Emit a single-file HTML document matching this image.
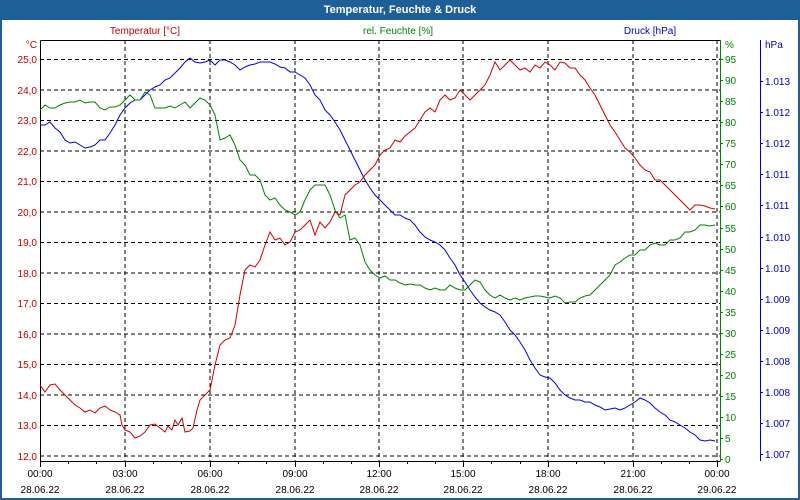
<!DOCTYPE html>
<html><head><meta charset="utf-8"><style>
html,body{margin:0;padding:0;background:#fff;}
svg{display:block;font-family:"Liberation Sans","DejaVu Sans",sans-serif;}
</style></head><body>
<svg width="800" height="500" viewBox="0 0 800 500" xmlns="http://www.w3.org/2000/svg">
<rect x="0" y="0" width="800" height="500" fill="#1e5f98"/>
<rect x="2" y="20" width="796" height="478" fill="#fff"/>
<text x="400" y="13" font-size="11" font-weight="bold" fill="#fff" text-anchor="middle">Temperatur, Feuchte &amp; Druck</text>
<text x="145" y="34" font-size="10" fill="#c00000" text-anchor="middle">Temperatur [°C]</text>
<text x="398" y="34" font-size="10" fill="#008000" text-anchor="middle">rel. Feuchte [%]</text>
<text x="650" y="34" font-size="10" fill="#0000c0" text-anchor="middle">Druck [hPa]</text>
<g stroke="#000" stroke-width="1" stroke-dasharray="4,3" fill="none">
<path d="M40,59.5H720M40,90H720M40,120.5H720M40,151H720M40,181.5H720M40,212H720M40,242.5H720M40,273H720M40,303.5H720M40,334H720M40,364.5H720M40,395H720M40,425.5H720M40,456H720"/>
<path d="M125,40V461M210,40V461M295,40V461M379,40V461M463,40V461M548,40V461M633,40V461M717,40V461"/>
</g>
<path d="M40.5,40.5H720.5M40.5,40.5V461.5H720.5" stroke="#000" fill="none"/>
<path d="M720.5,40V461" stroke="#008000" fill="none"/>
<path d="M760.5,40V461" stroke="#0000c0" fill="none"/>
<g stroke="#000"><path d="M40.5,461V467M68.5,461V464M96.5,461V464M125.5,461V467M153.5,461V464M181.5,461V464M210.5,461V467M238.5,461V464M266.5,461V464M295.5,461V467M323.5,461V464M351.5,461V464M379.5,461V467M407.5,461V464M435.5,461V464M463.5,461V467M491.5,461V464M520.5,461V464M548.5,461V467M576.5,461V464M604.5,461V464M633.5,461V467M661.5,461V464M689.5,461V464M717.5,461V467"/></g>
<g font-size="10" fill="#c00000" text-anchor="end">
<text x="37" y="48">°C</text>
<text x="37" y="63">25,0</text><text x="37" y="94">24,0</text><text x="37" y="124">23,0</text><text x="37" y="155">22,0</text><text x="37" y="185">21,0</text><text x="37" y="216">20,0</text><text x="37" y="246">19,0</text><text x="37" y="277">18,0</text><text x="37" y="307">17,0</text><text x="37" y="338">16,0</text><text x="37" y="368">15,0</text><text x="37" y="399">14,0</text><text x="37" y="429">13,0</text><text x="37" y="460">12,0</text>
</g>
<g font-size="10" fill="#008000">
<text x="725" y="48">%</text>
<text x="725" y="63">95</text><text x="725" y="84">90</text><text x="725" y="105">85</text><text x="725" y="126">80</text><text x="725" y="147">75</text><text x="725" y="168">70</text><text x="725" y="189">65</text><text x="725" y="210">60</text><text x="725" y="232">55</text><text x="725" y="253">50</text><text x="725" y="274">45</text><text x="725" y="295">40</text><text x="725" y="316">35</text><text x="725" y="337">30</text><text x="725" y="358">25</text><text x="725" y="379">20</text><text x="725" y="400">15</text><text x="725" y="421">10</text><text x="725" y="442">5</text><text x="725" y="463">0</text>
</g>
<g stroke="#008000"><path d="M720,59.5h3M720,80.5h3M720,101.5h3M720,122.5h3M720,143.5h3M720,164.5h3M720,185.5h3M720,206.5h3M720,228.5h3M720,249.5h3M720,270.5h3M720,291.5h3M720,312.5h3M720,333.5h3M720,354.5h3M720,375.5h3M720,396.5h3M720,417.5h3M720,438.5h3M720,459.5h3"/></g>
<g stroke="#0000c0"><path d="M760,81.5h3M760,112.5h3M760,143.5h3M760,174.5h3M760,205.5h3M760,237.5h3M760,268.5h3M760,299.5h3M760,330.5h3M760,361.5h3M760,392.5h3M760,423.5h3M760,454.5h3"/></g>
<g font-size="10" fill="#0000c0">
<text x="765" y="48">hPa</text>
<text x="765" y="85">1.013</text><text x="765" y="116">1.012</text><text x="765" y="147">1.012</text><text x="765" y="178">1.011</text><text x="765" y="209">1.011</text><text x="765" y="241">1.010</text><text x="765" y="272">1.010</text><text x="765" y="303">1.009</text><text x="765" y="334">1.009</text><text x="765" y="365">1.008</text><text x="765" y="396">1.008</text><text x="765" y="427">1.007</text><text x="765" y="458">1.007</text>
</g>
<g font-size="10" fill="#000" text-anchor="middle">
<text x="40" y="477">00:00</text><text x="125" y="477">03:00</text><text x="210" y="477">06:00</text><text x="295" y="477">09:00</text><text x="379" y="477">12:00</text><text x="463" y="477">15:00</text><text x="548" y="477">18:00</text><text x="633" y="477">21:00</text><text x="717" y="477">00:00</text>
<text x="40" y="493">28.06.22</text><text x="125" y="493">28.06.22</text><text x="210" y="493">28.06.22</text><text x="295" y="493">28.06.22</text><text x="379" y="493">28.06.22</text><text x="463" y="493">28.06.22</text><text x="548" y="493">28.06.22</text><text x="633" y="493">28.06.22</text><text x="717" y="493">29.06.22</text>
</g>
<polyline fill="none" stroke="#0000e0" stroke-width="1" points="40,125 45,125 50,122 55,128 60,132 65,140 70,143 75,142 80,145 85,148 90,147 95,145 100,140 105,140 110,133 115,125 120,115 125,108 130,103 135,100 140,100 145,95 150,90 155,87 160,85 165,80 170,78 175,73 180,68 185,62 190,58 195,62 200,63 205,62 210,60 215,65 220,60 225,60 230,62 235,65 240,70 245,67 250,65 255,64 260,62 265,62 270,62 275,64 280,67 285,68 290,72 295,72 300,75 305,78 310,85 315,95 320,100 325,110 330,115 335,122 340,130 345,140 350,150 355,160 360,170 365,180 370,188 375,195 380,200 385,205 390,210 395,215 400,215 405,218 410,220 415,225 420,232 425,237 430,240 435,242 440,245 445,250 450,258 455,265 460,275 465,282 470,290 475,297 480,303 485,307 490,310 495,312 500,315 505,322 510,330 515,335 520,342 525,350 530,360 535,368 540,375 545,377 550,378 555,383 560,390 565,395 570,398 575,400 580,400 585,402 590,402 595,405 600,407 605,410 610,409 615,408 620,410 625,408 630,405 635,402 640,398 645,400 650,403 655,408 660,412 665,415 670,420 675,422 680,425 685,428 690,432 695,435 700,440 705,441 710,440 715,441"/>
<polyline fill="none" stroke="#008000" stroke-width="1" points="40,110 45,105 50,108 55,108 60,105 65,103 70,102 75,102 80,100 85,103 90,102 95,102 100,108 105,110 110,107 115,107 120,105 125,100 130,95 135,100 140,100 145,92 150,95 155,108 160,108 165,108 170,106 175,108 180,105 185,102 190,108 195,103 200,98 205,100 210,105 215,115 220,140 225,138 230,135 235,145 240,160 245,165 250,175 255,175 260,180 265,195 270,200 275,198 280,205 285,210 290,212 295,215 300,212 305,200 310,190 315,185 320,185 325,185 330,195 335,210 340,218 345,215 350,240 355,238 360,245 365,262 370,270 375,275 380,278 385,276 390,280 395,280 400,283 405,285 410,284 415,285 420,285 425,288 430,290 435,288 440,290 445,290 450,285 455,288 460,290 465,290 470,285 475,280 480,282 485,290 490,295 495,298 500,295 505,298 510,300 515,298 520,300 525,298 530,297 535,296 540,296 545,297 550,298 555,296 560,298 565,303 570,302 575,302 580,298 585,296 590,295 595,290 600,285 605,280 610,275 615,265 620,262 625,258 630,255 635,255 640,250 645,250 650,245 655,243 660,245 665,245 670,240 675,240 680,238 685,232 690,232 695,230 700,225 705,225 710,226 715,225"/>
<polyline fill="none" stroke="#d00000" stroke-width="1" points="40,385 45,392 50,385 55,384 60,390 65,395 70,400 75,405 80,408 85,412 90,410 95,413 100,408 105,406 110,410 115,412 120,415 122,425 125,430 130,432 135,438 140,436 145,432 150,425 155,424 160,428 165,432 168,426 172,430 175,420 178,425 182,418 185,432 190,431 193,428 197,410 200,400 205,395 210,390 215,365 220,345 225,340 230,338 235,325 240,295 245,270 250,265 255,267 260,260 265,245 270,232 275,240 280,238 285,245 290,242 295,232 300,230 305,225 310,220 315,235 320,222 325,228 330,222 335,212 340,215 345,195 350,190 355,185 360,182 365,175 370,170 375,165 380,155 385,150 390,148 395,140 400,142 405,136 410,132 415,128 420,120 425,112 430,108 435,112 440,100 445,95 450,100 455,98 460,90 465,95 470,100 475,95 480,90 485,85 490,75 495,62 500,70 505,65 510,60 515,65 520,70 525,68 530,72 535,65 540,68 545,62 550,65 555,70 560,62 565,63 570,68 575,68 580,75 585,80 590,88 595,95 600,105 605,115 610,125 615,132 620,140 625,148 630,152 635,158 640,165 645,170 650,172 655,180 660,180 665,185 670,190 675,195 680,200 685,205 690,210 695,205 700,205 705,206 710,208 715,209"/>
</svg>
</body></html>
